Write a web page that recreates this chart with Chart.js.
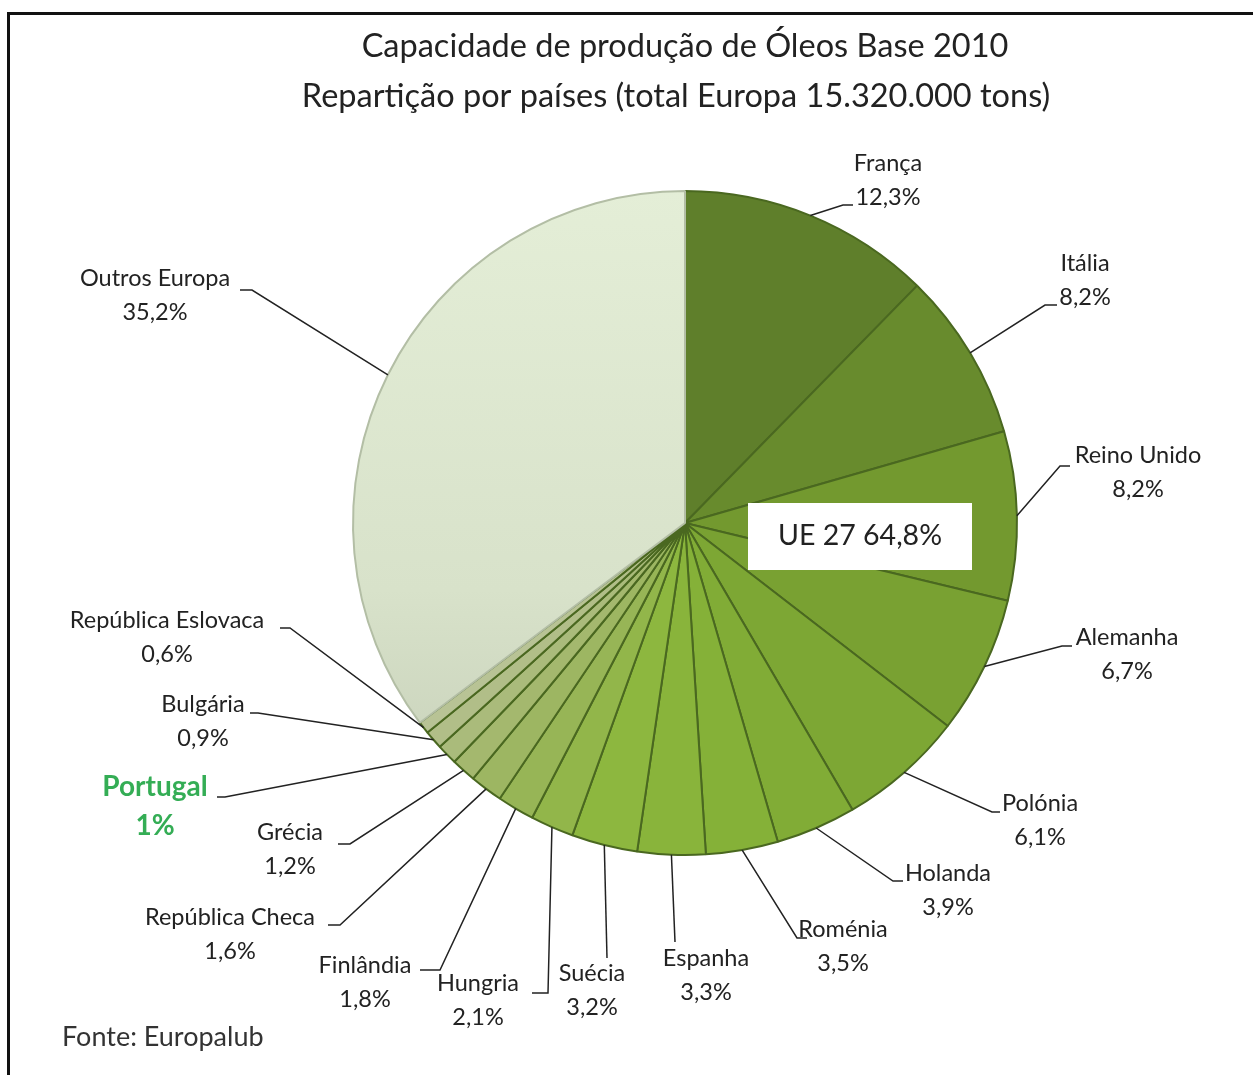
<!DOCTYPE html>
<html>
<head>
<meta charset="utf-8">
<script src="https://cdn.jsdelivr.net/npm/chart.js@4"></script>
<style>
  html, body { margin: 0; padding: 0; background: #fff; }
  #wrap { position: relative; width: 1253px; height: 1075px; }
  #frame { position: absolute; left: 7px; top: 12px; right: 0; bottom: 0;
           border-top: 3px solid #111; border-left: 3px solid #111; }
  canvas { position: absolute; left: 0; top: 0; }
</style>
</head>
<body>
<div id="wrap">
  <div id="frame"></div>
  <canvas id="pie-chart" width="1253" height="1075"></canvas>
</div>
<script>
const countries = ['França', 'Itália', 'Reino Unido', 'Alemanha', 'Polónia', 'Holanda', 'Roménia',
  'Espanha', 'Suécia', 'Hungria', 'Finlândia', 'República Checa', 'Grécia', 'Portugal',
  'Bulgária', 'República Eslovaca', 'Outros Europa'];
const shares = [12.3, 8.2, 8.2, 6.7, 6.1, 3.9, 3.5, 3.3, 3.2, 2.1, 1.8, 1.6, 1.2, 1, 0.9, 0.6, 35.2];
const shareText = ['12,3%', '8,2%', '8,2%', '6,7%', '6,1%', '3,9%', '3,5%', '3,3%', '3,2%', '2,1%',
  '1,8%', '1,6%', '1,2%', '1%', '0,9%', '0,6%', '35,2%'];
const titleLines = ['Capacidade de produção de Óleos Base 2010',
  'Repartição por países (total Europa 15.320.000 tons)'];
const ueText = 'UE 27 64,8%';
const sourceText = 'Fonte: Europalub';

const sliceColors = ['#5f7f2b', '#688b2d', '#73992f', '#79a132', '#7da734', '#81ac36', '#85b138',
  '#89b43b', '#8db73f', '#92b64a', '#97b556', '#9db662', '#a4b86e', '#aabb7b', '#b1be88', '#b8c395',
  '#dde7cf'];

// label layout: name centre x, name centre y, elbow x, elbow y, stub end x
const labelLayout = [
  [888, 163, 843, 205, 853], [1085, 263, 1045, 305, 1057], [1138, 455, 1060, 466, 1070],
  [1127, 637, 1062, 646, 1072], [1040, 803, 992, 812, 1000], [948, 873, 893, 881, 903],
  [843, 929, 797, 938, 807], [706, 958, 675, 942, 675], [592, 973, 607, 958, 607],
  [478, 983, 548, 993, 532], [365, 965, 440, 970, 420], [230, 917, 340, 925, 328],
  [290, 832, 350, 844, 338], [155, 787, 225, 797, 217], [203, 704, 258, 713, 250],
  [167, 620, 290, 628, 280], [155, 278, 252, 290, 240]
];

const labelPlugin = {
  id: 'labels',
  afterDraw(chart) {
    const c = chart.ctx;
    const arcs = chart.getDatasetMeta(0).data;
    c.save();
    c.textAlign = 'center';
    c.textBaseline = 'middle';
    // titles
    c.fillStyle = '#222';
    c.font = '32.5px Lato';
    c.fillText(titleLines[0], 685, 47);
    c.fillText(titleLines[1], 676, 97);

    // leader lines
    c.strokeStyle = '#222';
    c.lineWidth = 1.5;
    arcs.forEach((a, i) => {
      const mid = (a.startAngle + a.endAngle) / 2;
      const px = a.x + Math.cos(mid) * a.outerRadius;
      const py = a.y + Math.sin(mid) * a.outerRadius;
      const L = labelLayout[i];
      c.beginPath();
      c.moveTo(px, py);
      c.lineTo(L[2], L[3]);
      c.lineTo(L[4], L[3]);
      c.stroke();
    });

    // label text
    arcs.forEach((a, i) => {
      const L = labelLayout[i];
      if (countries[i] === 'Portugal') {
        c.fillStyle = '#34ad55';
        c.font = 'bold 28px Lato';
        c.fillText(countries[i], L[0], L[1]);
        c.fillText(shareText[i], L[0], L[1] + 39);
      } else {
        c.fillStyle = '#222';
        c.font = '23.5px Lato';
        c.fillText(countries[i], L[0], L[1]);
        c.fillText(shareText[i], L[0], L[1] + 34);
      }
    });

    // UE 27 box
    c.fillStyle = '#fff';
    c.fillRect(748, 503, 224, 67);
    c.fillStyle = '#222';
    c.font = '28.5px Lato';
    c.fillText(ueText, 860, 536);

    // source
    c.textAlign = 'left';
    c.fillStyle = '#333';
    c.font = '27px Lato';
    c.fillText(sourceText, 62, 1037);
    c.restore();
  }
};

// the big "Outros" slice fades from pale green at the top to greyish green lower down
function sliceFill(context) {
  const i = context.dataIndex;
  const area = context.chart.chartArea;
  if (countries[i] !== 'Outros Europa' || !area) return sliceColors[i];
  const g = context.chart.ctx.createLinearGradient(0, area.top, 0, area.bottom);
  g.addColorStop(0, '#e4eed7');
  g.addColorStop(0.6, '#d8e2ca');
  g.addColorStop(1, '#c3ccb5');
  return g;
}

new Chart(document.getElementById('pie-chart'), {
  type: 'pie',
  data: {
    labels: countries,
    datasets: [{
      data: shares,
      backgroundColor: sliceFill,
      borderColor: countries.map(n => n === 'Outros Europa' ? '#b3bea5' : '#4a6820'),
      borderWidth: 2
    }]
  },
  options: {
    responsive: false,
    animation: false,
    layout: { padding: { left: 352, right: 235, top: 190, bottom: 219 } },
    plugins: {
      legend: { display: false },
      tooltip: { enabled: false }
    }
  },
  plugins: [labelPlugin]
});
</script>
</body>
</html>
